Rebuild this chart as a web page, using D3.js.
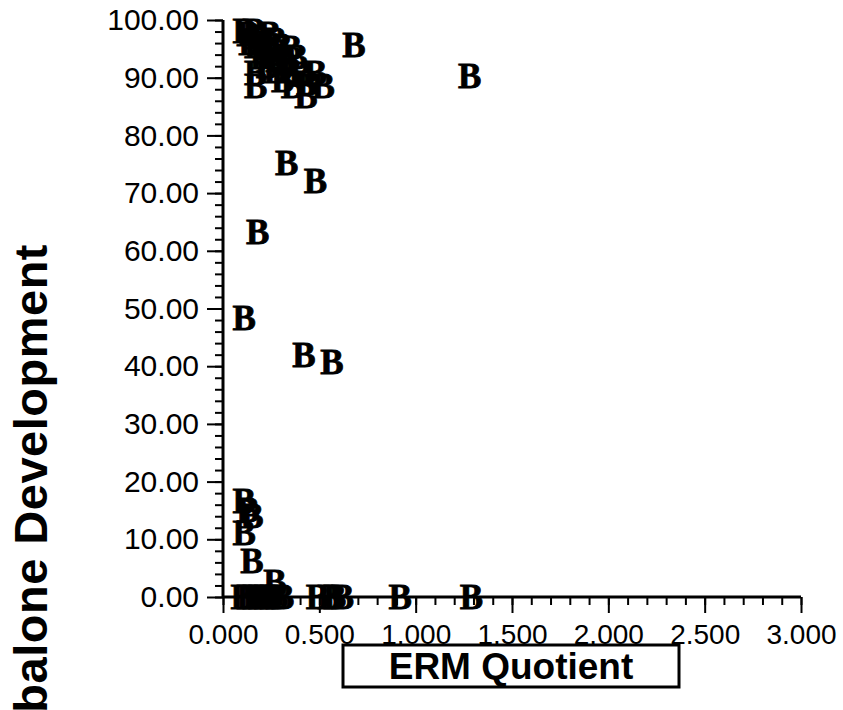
<!DOCTYPE html>
<html>
<head>
<meta charset="utf-8">
<script src="https://cdn.jsdelivr.net/npm/d3@7"></script>
<style>
  html, body { margin: 0; padding: 0; background: #ffffff; }
  svg { display: block; }
</style>
</head>
<body>
<svg id="chart" width="843" height="710"></svg>
<script>
// ---- data ----
const ermQuotient = [
  // top cluster
  0.11, 0.13, 0.16, 0.18, 0.14, 0.20, 0.24, 0.27, 0.22, 0.17, 0.30, 0.35, 0.25, 0.20, 0.28,
  0.38, 0.23, 0.32, 0.27, 0.35, 0.17, 0.40, 0.48, 0.31, 0.44, 0.17, 0.52, 0.36, 0.43,
  // isolated
  0.68, 1.28, 0.33, 0.48, 0.18, 0.11, 0.42, 0.565,
  // low values
  0.11, 0.13, 0.15, 0.11, 0.15, 0.27,
  // zero row
  0.10, 0.13, 0.16, 0.19, 0.22, 0.25, 0.28, 0.31, 0.49, 0.55, 0.58, 0.62, 0.92, 1.29
];
const abaloneDevelopment = [
  98.0, 97.5, 98.0, 97.0, 96.0, 96.5, 97.5, 96.5, 95.0, 95.5, 95.5, 95.0, 94.0, 93.5, 93.0,
  93.5, 92.0, 92.5, 91.0, 91.0, 90.8, 90.5, 90.8, 89.5, 89.0, 88.4, 88.4, 88.5, 86.7,
  95.6, 90.3, 75.2, 72.1, 63.2, 48.3, 41.9, 40.7,
  16.5, 15.0, 14.0, 11.0, 6.2, 2.6,
  0, 0, 0, 0, 0, 0, 0, 0, 0, 0, 0, 0, 0, 0
];
const xTickValues = [0, 0.5, 1.0, 1.5, 2.0, 2.5, 3.0];
const yTickValues = [0, 10, 20, 30, 40, 50, 60, 70, 80, 90, 100];
const xTitle = "ERM Quotient";
const yTitle = "Abalone Development";
const markerSymbol = "B";

// ---- layout ----
const plotLeft = 223, plotRight = 801, plotTop = 20, plotBottom = 597;
const svg = d3.select("#chart");

const x = d3.scaleLinear().domain([0, 3]).range([plotLeft, plotRight]);
const y = d3.scaleLinear().domain([0, 100]).range([plotBottom, plotTop]);

const tickFont = "'Liberation Sans', Arial, Helvetica, sans-serif";

// minor ticks
const xMinor = d3.range(0, 31).map(i => i / 10);
const yMinor = d3.range(0, 51).map(i => i * 2);

const xAxisMinor = svg.append("g")
  .attr("transform", `translate(0,${plotBottom})`)
  .call(d3.axisBottom(x).tickValues(xMinor).tickSize(8).tickFormat(""));
const yAxisMinor = svg.append("g")
  .attr("transform", `translate(${plotLeft},0)`)
  .call(d3.axisLeft(y).tickValues(yMinor).tickSize(8).tickFormat(""));

const xAxis = svg.append("g")
  .attr("transform", `translate(0,${plotBottom})`)
  .call(d3.axisBottom(x).tickValues(xTickValues).tickSize(16).tickPadding(11)
        .tickFormat(d3.format(".3f")));
const yAxis = svg.append("g")
  .attr("transform", `translate(${plotLeft},0)`)
  .call(d3.axisLeft(y).tickValues(yTickValues).tickSize(16).tickPadding(8)
        .tickFormat(d3.format(".2f")));

[xAxisMinor, yAxisMinor, xAxis, yAxis].forEach(g => {
  g.selectAll(".domain").attr("stroke", "#000").attr("stroke-width", 3);
  g.selectAll(".tick line").attr("stroke", "#000").attr("stroke-width", 2);
});
xAxisMinor.select(".domain").remove();
yAxisMinor.select(".domain").remove();
xAxis.select(".domain").attr("d", `M${plotLeft},0H${plotRight}`);
yAxis.select(".domain").attr("d", `M0,${plotTop}V${plotBottom}`);

xAxis.selectAll(".tick text")
  .attr("font-family", tickFont).attr("font-size", 28).attr("fill", "#000");
yAxis.selectAll(".tick text")
  .attr("font-family", tickFont).attr("font-size", 30).attr("fill", "#000");

// points drawn as "B" markers
svg.append("g").selectAll("text")
  .data(ermQuotient.map((v, i) => [v, abaloneDevelopment[i]]))
  .join("text")
  .attr("x", d => x(d[0]))
  .attr("y", d => y(d[1]))
  .attr("dy", "0.33em")
  .attr("text-anchor", "middle")
  .attr("font-family", "'Liberation Serif', 'Times New Roman', serif")
  .attr("font-weight", "bold")
  .attr("font-size", 35)
  .attr("fill", "#000")
  .attr("stroke", "#000")
  .attr("stroke-width", 0.8)
  .text(markerSymbol);

// x title in box
const xt = svg.append("g");
xt.append("rect")
  .attr("x", 343).attr("y", 645).attr("width", 336).attr("height", 42)
  .attr("fill", "none").attr("stroke", "#000").attr("stroke-width", 3);
xt.append("text")
  .attr("x", 511).attr("y", 679)
  .attr("text-anchor", "middle")
  .attr("font-family", tickFont).attr("font-weight", "bold").attr("font-size", 37)
  .attr("fill", "#000")
  .text(xTitle);

// y title
svg.append("text")
  .attr("transform", "translate(47,244) rotate(-90)")
  .attr("text-anchor", "end")
  .attr("font-family", tickFont).attr("font-weight", "bold").attr("font-size", 47)
  .attr("letter-spacing", 0.5)
  .attr("fill", "#000")
  .text(yTitle);
</script>
</body>
</html>
